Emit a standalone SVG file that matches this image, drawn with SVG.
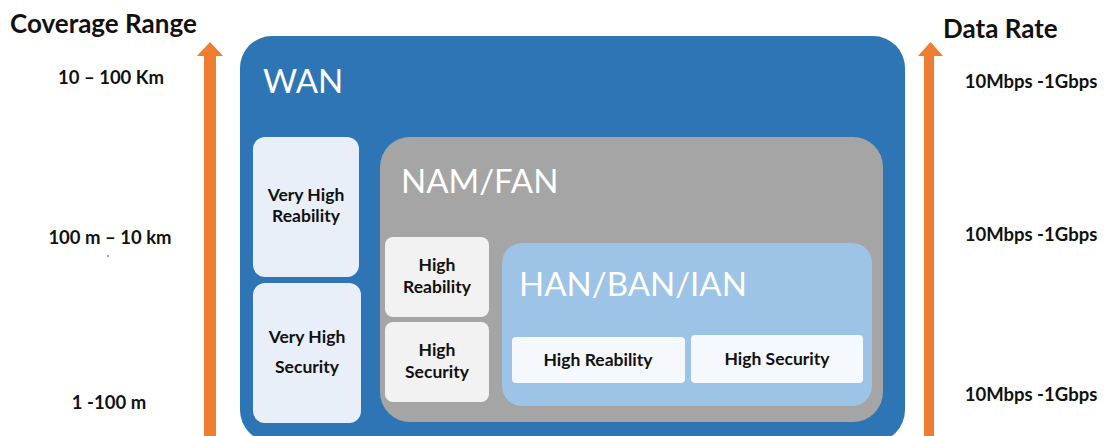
<svg xmlns="http://www.w3.org/2000/svg" width="1104" height="436" viewBox="0 0 1104 436">
  <defs>
    <style>
      .lbl { font-family: Lato, "Liberation Sans", Arial, sans-serif; font-weight: bold; fill: #111; }
      .side { font-size: 18.5px; text-anchor: middle; }
      .head { font-size: 26px; }
      .card { font-size: 17.5px; text-anchor: middle; }
      .big { font-family: Lato, "Liberation Sans", Arial, sans-serif; font-weight: normal; font-size: 33px; fill: #ffffff; }
      .arrow { fill: #ED7D31; }
      .pale { fill: #E9EFF8; }
      .grey { fill: #F2F2F2; }
      .white { fill: #F5F8FC; }
    </style>
  </defs>

  <rect width="1104" height="436" fill="#ffffff"/>

  <!-- axis headings and scale values -->
  <g id="coverage-axis">
    <text class="lbl head" x="10" y="33">Coverage Range</text>
    <text class="lbl side" x="111" y="84">10 – 100 Km</text>
    <text class="lbl side" x="110" y="244">100 m – 10 km</text>
    <circle cx="108" cy="256" r="0.8" fill="#333"/>
    <text class="lbl side" x="109" y="409">1 -100 m</text>
  </g>
  <g id="rate-axis">
    <text class="lbl head" x="943" y="38">Data Rate</text>
    <text class="lbl side" x="1031" y="88">10Mbps -1Gbps</text>
    <text class="lbl side" x="1031" y="241">10Mbps -1Gbps</text>
    <text class="lbl side" x="1031" y="401">10Mbps -1Gbps</text>
  </g>

  <!-- orange scale arrows -->
  <g id="connectors">
    <polygon class="arrow" points="204,436 204,56 197,56 210,42 223,56 216,56 216,436"/>
    <polygon class="arrow" points="924,436 924,56 918,56 930.5,42 943,56 934,56 934,436"/>
  </g>

  <!-- WAN -->
  <g id="wan">
    <rect x="240" y="36" width="665" height="406" rx="32" fill="#2E75B6"/>
    <text class="big" x="263" y="93">WAN</text>
  </g>
  <g id="wan-reliability">
    <rect class="pale" x="253" y="137" width="106" height="140" rx="12"/>
    <text class="lbl card" x="306" y="201">Very High</text>
    <text class="lbl card" x="306" y="222">Reability</text>
  </g>
  <g id="wan-security">
    <rect class="pale" x="253" y="283" width="108" height="140" rx="12"/>
    <text class="lbl card" x="307" y="343">Very High</text>
    <text class="lbl card" x="307" y="373">Security</text>
  </g>

  <!-- NAM/FAN -->
  <g id="nam-fan">
    <rect x="380" y="137" width="503" height="285" rx="30" fill="#A5A5A5"/>
    <text class="big" x="401" y="193">NAM/FAN</text>
  </g>
  <g id="nam-reliability">
    <rect class="grey" x="385" y="237" width="104" height="80" rx="8"/>
    <text class="lbl card" x="437" y="271">High</text>
    <text class="lbl card" x="437" y="293">Reability</text>
  </g>
  <g id="nam-security">
    <rect class="grey" x="385" y="322" width="104" height="80" rx="8"/>
    <text class="lbl card" x="437" y="356">High</text>
    <text class="lbl card" x="437" y="378">Security</text>
  </g>

  <!-- HAN/BAN/IAN -->
  <g id="han-ban-ian">
    <rect x="502" y="243" width="370" height="163" rx="20" fill="#9DC3E6"/>
    <text class="big" x="519" y="296">HAN/BAN/IAN</text>
  </g>
  <g id="han-reliability">
    <rect class="white" x="512" y="337" width="173" height="46" rx="4"/>
    <text class="lbl card" x="598" y="366">High Reability</text>
  </g>
  <g id="han-security">
    <rect class="white" x="691" y="335" width="172" height="48" rx="4"/>
    <text class="lbl card" x="777" y="365">High Security</text>
  </g>
</svg>
